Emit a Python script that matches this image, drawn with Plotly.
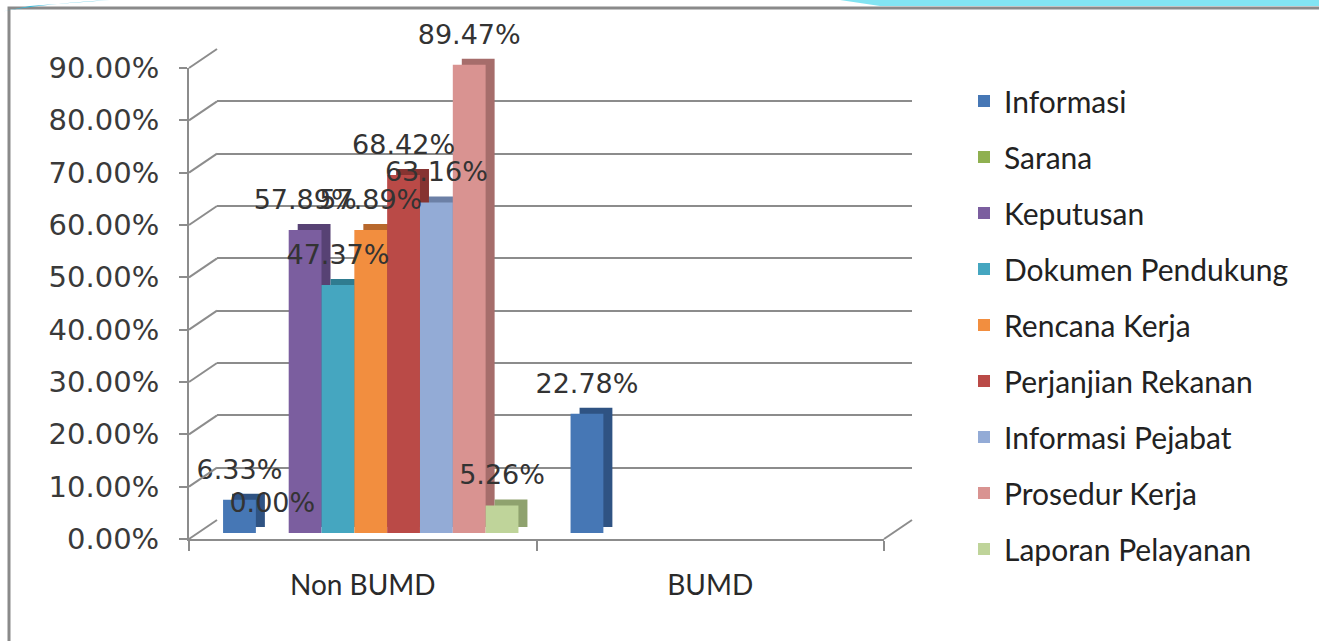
import plotly.graph_objects as go

# ---- data -------------------------------------------------------------
categories = ["Non BUMD", "BUMD"]
series_names = [
    "Informasi", "Sarana", "Keputusan", "Dokumen Pendukung", "Rencana Kerja",
    "Perjanjian Rekanan", "Informasi Pejabat", "Prosedur Kerja", "Laporan Pelayanan",
]
informasi = [6.33, 22.78]
sarana = [0.00, None]
keputusan = [57.89, None]
dokumen_pendukung = [47.37, None]
rencana_kerja = [57.89, None]
perjanjian_rekanan = [68.42, None]
informasi_pejabat = [63.16, None]
prosedur_kerja = [89.47, None]
laporan_pelayanan = [5.26, None]
series_values = [
    informasi, sarana, keputusan, dokumen_pendukung, rencana_kerja,
    perjanjian_rekanan, informasi_pejabat, prosedur_kerja, laporan_pelayanan,
]
tick_values = [0, 10, 20, 30, 40, 50, 60, 70, 80, 90]
tick_labels = [f"{v:.2f}%" for v in tick_values]

# ---- styling ----------------------------------------------------------
front_colors = ["#4677B5", "#8FB050", "#7B5E9F", "#45A6C0", "#F28E3F",
                "#BA4A47", "#93ABD6", "#D99391", "#BFD49A"]
side_colors = ["#2F5383", "#6A8638", "#574274", "#2F7C90", "#B8682C",
               "#863331", "#6C80A6", "#A66D6B", "#8FA26E"]

W, H = 1319, 641
GRID = "#8c8c8c"
TICK_FONT = dict(family="DejaVu Sans", size=29, color="#3a3a3a")
CAT_FONT = dict(family="Lato", size=28, color="#2a2a2a")


def px_x(x):
    return x / W


def px_y(y):
    return 1 - y / H


# front plane of the chart box (pixels): left, right, bottom, top
FL, FR, FB, FT = 189, 884, 539, 68
DEPTH = (28, -19)          # offset of the back wall
BAR_OFF = (8, -6)          # front faces of the bars
SIDE_OFF = (17, -12)       # depth faces of the bars
LABEL_OFF = (8, -18)       # data labels above the bars


def domains(off):
    dx, dy = off
    return ([px_x(FL + dx), px_x(FR + dx)], [px_y(FB + dy), px_y(FT + dy)])


fig = go.Figure()

# subplot 1: back wall with gridlines
fig.add_trace(go.Scatter(x=categories, y=[None, None], xaxis="x", yaxis="y",
                         showlegend=False, hoverinfo="skip"))
# subplot 2: front frame carrying the tick labels
fig.add_trace(go.Scatter(x=categories, y=[None, None], xaxis="x2", yaxis="y2",
                         showlegend=False, hoverinfo="skip"))

# subplot 3: depth faces of the bars
for name, vals, col in zip(series_names, series_values, side_colors):
    fig.add_trace(go.Bar(x=categories, y=vals, name=name, xaxis="x3", yaxis="y3",
                         marker=dict(color=col, line=dict(width=0)),
                         showlegend=False, hoverinfo="skip"))

# subplot 4: front faces of the bars
for name, vals, col in zip(series_names, series_values, front_colors):
    fig.add_trace(go.Bar(x=categories, y=vals, name=name, xaxis="x4", yaxis="y4",
                         marker=dict(color=col, line=dict(width=0)),
                         legendgroup=name, showlegend=True))

# subplot 5: value labels
for name, vals in zip(series_names, series_values):
    fig.add_trace(go.Bar(x=categories, y=vals, name=name, xaxis="x5", yaxis="y5",
                         marker=dict(color="rgba(0,0,0,0)", line=dict(width=0)),
                         texttemplate="%{y:.2f}%", textposition="outside",
                         textfont=dict(family="DejaVu Sans", size=27, color="#333333"),
                         constraintext="none", cliponaxis=False,
                         showlegend=False, hoverinfo="skip"))

hidden_x = dict(type="category", categoryarray=categories, range=[-0.5, 1.5],
                visible=False, fixedrange=True, automargin=False)
hidden_y = dict(type="linear", range=[0, 90], visible=False, fixedrange=True,
                automargin=False)

layout_axes = {}
for i, off in enumerate([DEPTH, (0, 0), SIDE_OFF, BAR_OFF, LABEL_OFF], start=1):
    xd, yd = domains(off)
    sx = "" if i == 1 else str(i)
    layout_axes["xaxis" + sx] = dict(hidden_x, domain=xd, anchor="y" + sx)
    layout_axes["yaxis" + sx] = dict(hidden_y, domain=yd, anchor="x" + sx)

# back wall gridlines
layout_axes["yaxis"].update(visible=True, showgrid=True, gridcolor=GRID, gridwidth=2,
                            tickmode="array", tickvals=tick_values,
                            showticklabels=False, ticks="",
                            zeroline=False, showline=False)

# front frame: value axis and category axis
layout_axes["yaxis2"].update(visible=True, showgrid=False, zeroline=False,
                             tickmode="array", tickvals=tick_values, ticktext=tick_labels,
                             showline=True, linecolor=GRID, linewidth=2,
                             ticks="outside", ticklen=8, tickwidth=2, tickcolor=GRID,
                             tickfont=TICK_FONT, ticklabelstandoff=14)
layout_axes["xaxis2"].update(visible=True, showgrid=False, zeroline=False,
                             showline=True, linecolor=GRID, linewidth=2,
                             ticks="outside", tickson="boundaries", ticklen=10,
                             tickwidth=2, tickcolor=GRID, tickfont=CAT_FONT,
                             ticklabelstandoff=20)

# connectors from the front axis to the back wall, and the floor edge
shapes = []
wx, wy = DEPTH
for v in tick_values:
    yf = FB - (FB - FT) * v / 90
    shapes.append(dict(type="line", xref="paper", yref="paper",
                       x0=px_x(FL), y0=px_y(yf), x1=px_x(FL + wx), y1=px_y(yf + wy),
                       line=dict(color=GRID, width=2)))
shapes.append(dict(type="line", xref="paper", yref="paper",
                   x0=px_x(FR), y0=px_y(FB), x1=px_x(FR + wx), y1=px_y(FB + wy),
                   line=dict(color=GRID, width=2)))

# slide frame around the chart
shapes.append(dict(type="path", xref="paper", yref="paper",
                   path=f"M {px_x(9)},{px_y(641)} L {px_x(9)},{px_y(8)} L {px_x(1319)},{px_y(8)}",
                   line=dict(color="#8a8a8a", width=3)))
shapes.append(dict(type="path", xref="paper", yref="paper",
                   path=(f"M {px_x(840)},{px_y(0)} L {px_x(1319)},{px_y(0)} "
                         f"L {px_x(1319)},{px_y(6)} L {px_x(880)},{px_y(6)} Z"),
                   fillcolor="#82e4f2", line=dict(width=0)))
shapes.append(dict(type="path", xref="paper", yref="paper",
                   path=(f"M {px_x(0)},{px_y(12)} Q {px_x(40)},{px_y(4)} {px_x(110)},{px_y(0)} "
                         f"L {px_x(30)},{px_y(6)} Z"),
                   fillcolor="#38b8d8", line=dict(width=0)))

fig.update_layout(
    template="none",
    width=W, height=H,
    margin=dict(l=0, r=0, t=0, b=0, autoexpand=False),
    paper_bgcolor="white",
    plot_bgcolor="rgba(0,0,0,0)",
    barmode="group",
    bargap=0.15,
    bargroupgap=0,
    showlegend=True,
    legend=dict(x=px_x(964), y=px_y(75), xanchor="left", yanchor="top",
                font=dict(family="Lato", size=30, color="#222222"),
                tracegroupgap=14, bgcolor="rgba(0,0,0,0)", borderwidth=0,
                itemwidth=30),
    shapes=shapes,
    **layout_axes,
)

fig.write_html("out.html")
